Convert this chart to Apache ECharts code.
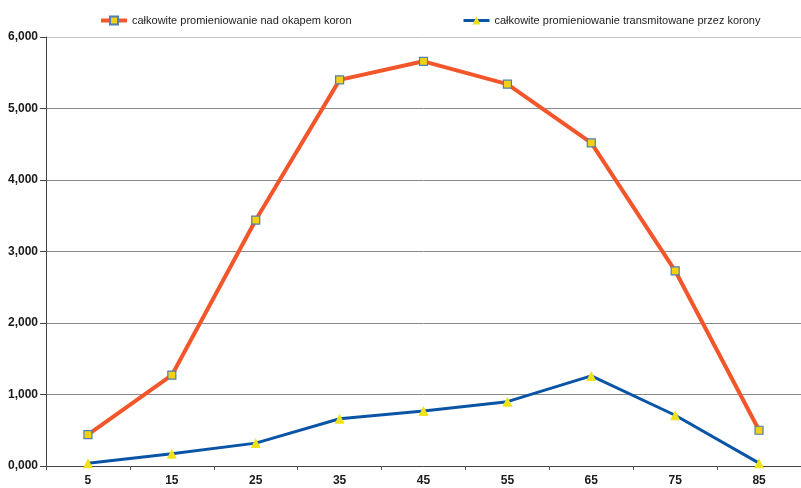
<!DOCTYPE html>
<html>
<head>
<meta charset="utf-8">
<script src="https://cdn.jsdelivr.net/npm/echarts@6/dist/echarts.min.js"></script>
<style>
  html, body { margin: 0; padding: 0; background: #fff; }
  #chart { width: 801px; height: 488px; }
</style>
</head>
<body>
<div id="chart"></div>
<script>
// Category labels along the x axis
const categories = ['5', '15', '25', '35', '45', '55', '65', '75', '85'];
// Total radiation above the canopy
const aboveCanopy = [0.44, 1.27, 3.44, 5.40, 5.66, 5.34, 4.52, 2.73, 0.50];
// Total radiation transmitted through the canopy
const transmitted = [0.04, 0.17, 0.32, 0.66, 0.77, 0.90, 1.26, 0.71, 0.04];
const seriesNames = [
  'całkowite promieniowanie nad okapem koron',
  'całkowite promieniowanie transmitowane przez korony'
];

const chart = echarts.init(document.getElementById('chart'), null, { renderer: 'canvas' });
const font = 'Liberation Sans, Arial, sans-serif';

const legendBase = {
  top: 10,
  itemWidth: 26,
  itemHeight: 10,
  textStyle: { fontFamily: font, fontSize: 11, color: '#222' }
};

chart.setOption({
  animation: false,
  backgroundColor: '#ffffff',
  grid: { left: 46, right: 0, top: 37, bottom: 22, containLabel: false },
  legend: [
    Object.assign({ left: 94, data: [seriesNames[0]], lineStyle: { width: 4 } }, legendBase),
    Object.assign({ left: 457, data: [seriesNames[1]], lineStyle: { width: 3 } }, legendBase)
  ],
  xAxis: {
    type: 'category',
    data: categories,
    boundaryGap: true,
    axisLine: { lineStyle: { color: '#444', width: 1 } },
    axisTick: { show: true, length: 4, lineStyle: { color: '#555' } },
    axisLabel: { fontFamily: font, fontSize: 12, color: '#1a1a1a', fontWeight: 'bold', margin: 9 },
    splitLine: { show: false }
  },
  yAxis: {
    type: 'value',
    min: 0,
    max: 6,
    interval: 1,
    axisLine: { show: true, lineStyle: { color: '#444', width: 1 } },
    axisTick: { show: true, length: 6, lineStyle: { color: '#444' } },
    axisLabel: {
      fontFamily: font, fontSize: 12, color: '#1a1a1a', fontWeight: 'bold', margin: 8,
      formatter: v => v.toFixed(3).replace('.', ',')
    },
    splitLine: {
      show: true,
      lineStyle: {
        color: ['#8a8a8a', '#8a8a8a', '#8a8a8a', '#8a8a8a', '#8a8a8a', '#8a8a8a', '#c4c4c4'],
        width: 1
      }
    }
  },
  series: [
    {
      name: seriesNames[0],
      type: 'line',
      data: aboveCanopy,
      symbol: 'rect',
      symbolSize: 8,
      lineStyle: { color: '#f2562a', width: 4 },
      itemStyle: { color: '#f4d010', borderColor: '#4f7fb3', borderWidth: 1.2 },
      z: 3
    },
    {
      name: seriesNames[1],
      type: 'line',
      data: transmitted,
      symbol: 'triangle',
      symbolSize: 10,
      lineStyle: { color: '#0a54a6', width: 3 },
      itemStyle: { color: '#eee21a', borderWidth: 0 },
      z: 4
    }
  ]
});
</script>
</body>
</html>
